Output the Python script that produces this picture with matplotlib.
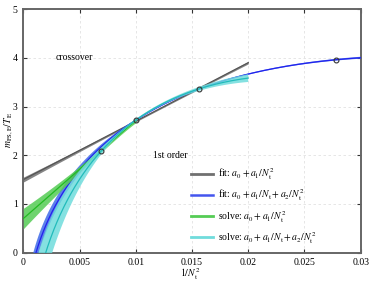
import numpy as np
import matplotlib
matplotlib.use("Agg")
import matplotlib.pyplot as plt

plt.rcParams['font.family'] = ['Liberation Serif', 'DejaVu Serif']
plt.rcParams['mathtext.fontset'] = 'stix'

# Measured points: N_t = 6, 8, 10, 12
nt_points = [6, 8, 10, 12]
m_points = [3.96, 3.36, 2.73, 2.09]

# coefficients
fit_lin = [1.50, 120.0]               # a0 + a1/Nt^2, x in [0, 0.02]
fit_quad = [-1.94, 63.4, -168.0]      # a0 + a1/Nt + a2/Nt^2, x in [0, 0.03]
solve_lin = [0.70, 202.0]             # a0 + a1/Nt^2, x in [0, 0.01]
solve_quad = [-3.50, 91.5, -292.8]    # a0 + a1/Nt + a2/Nt^2, x in [0, 0.02]

# error bands: [half-width at x=0, narrowest half-width, x of narrowest, half-width at end]
fit_lin_err = [0.05, 0.015, 0.012, 0.025]
fit_quad_err = [0.23, 0.01, 0.012, 0.02]
solve_lin_err = [0.21, 0.03, 0.0085, 0.05]
solve_quad_err = [0.71, 0.02, 0.0095, 0.08]

labels = [r'fit: $a_0 + a_1/N_\mathrm{t}^2$',
          r'fit: $a_0 + a_1/N_\mathrm{t} + a_2/N_\mathrm{t}^2$',
          r'solve: $a_0 + a_1/N_\mathrm{t}^2$',
          r'solve: $a_0 + a_1/N_\mathrm{t} + a_2/N_\mathrm{t}^2$']
line_colors = ['#555555', '#2222ee', '#22bb22', '#22bbbb']
band_colors = ['#707070', '#3f6be8', '#55cc55', '#70dcdc']


def model(c, x):
    if len(c) == 2:
        return c[0] + c[1] * x
    return c[0] + c[1] * np.sqrt(x) + c[2] * x


def band(e, x, xmax):
    w0, wmin, xp, wend = e
    left = wmin + (w0 - wmin) * ((xp - x) / xp) ** 2
    right = wmin + (wend - wmin) * ((x - xp) / max(xmax - xp, 1e-9)) ** 2
    return np.where(x < xp, left, right)


fig = plt.figure(figsize=(3.74, 2.81), dpi=100)
ax = fig.add_axes([0.0623, 0.1007, 0.902, 0.867])

curves = [(fit_lin, fit_lin_err, 0.02), (fit_quad, fit_quad_err, 0.03),
          (solve_lin, solve_lin_err, 0.01), (solve_quad, solve_quad_err, 0.02)]
for i, (c, err, xmax) in enumerate(curves):
    x = np.linspace(0, xmax, 500)
    y = model(c, x)
    w = band(err, x, xmax)
    ax.fill_between(x, y - w, y + w, color=band_colors[i], alpha=0.85, lw=0, zorder=2 + i)
    ax.plot(x, y, color=line_colors[i], lw=0.9, zorder=2 + i)

x_pts = [1.0 / n ** 2 for n in nt_points]
ax.plot(x_pts, m_points, 'o', ms=3.5, mfc='none', mec='#333333', mew=0.8, zorder=10)

ax.text(0.0045, 4.01, 'crossover', fontsize=7, ha='center', va='center')
ax.text(0.0131, 1.99, '1st order', fontsize=7, ha='center', va='center')

handles = [plt.Line2D([], [], color=band_colors[i], lw=2.0) for i in range(4)]
handles[1] = plt.Line2D([], [], color='#4455ee', lw=1.8)
ax.legend(handles, labels, loc='upper left', frameon=False, fontsize=7,
          handlelength=2.26, handletextpad=0.45, labelspacing=0.55,
          borderpad=0, borderaxespad=0, bbox_to_anchor=(0.498, 0.355))

ax.set_xlim(0, 0.03)
ax.set_ylim(0, 5)
ax.set_xticks([0, 0.005, 0.01, 0.015, 0.02, 0.025, 0.03])
ax.set_xticklabels(['0', '0.005', '0.01', '0.015', '0.02', '0.025', '0.03'])
ax.set_yticks([0, 1, 2, 3, 4, 5])
ax.tick_params(direction='in', top=True, right=True, labelsize=7, length=3,
               color='#333333', pad=4)
ax.grid(True, ls=(0, (3, 3)), color='#e2e2e2', lw=0.6)
for s in ax.spines.values():
    s.set_color('#666666')
    s.set_linewidth(1.4)
ax.set_xlabel(r'$1/N_\mathrm{t}^2$', fontsize=7)
ax.set_ylabel(r'$m_{\mathrm{PS,E}}/T_\mathrm{E}$', fontsize=7)
ax.xaxis.set_label_coords(0.495, -0.056)
ax.yaxis.set_label_coords(-0.026, 0.505)

fig.savefig('out.png', dpi=100)
